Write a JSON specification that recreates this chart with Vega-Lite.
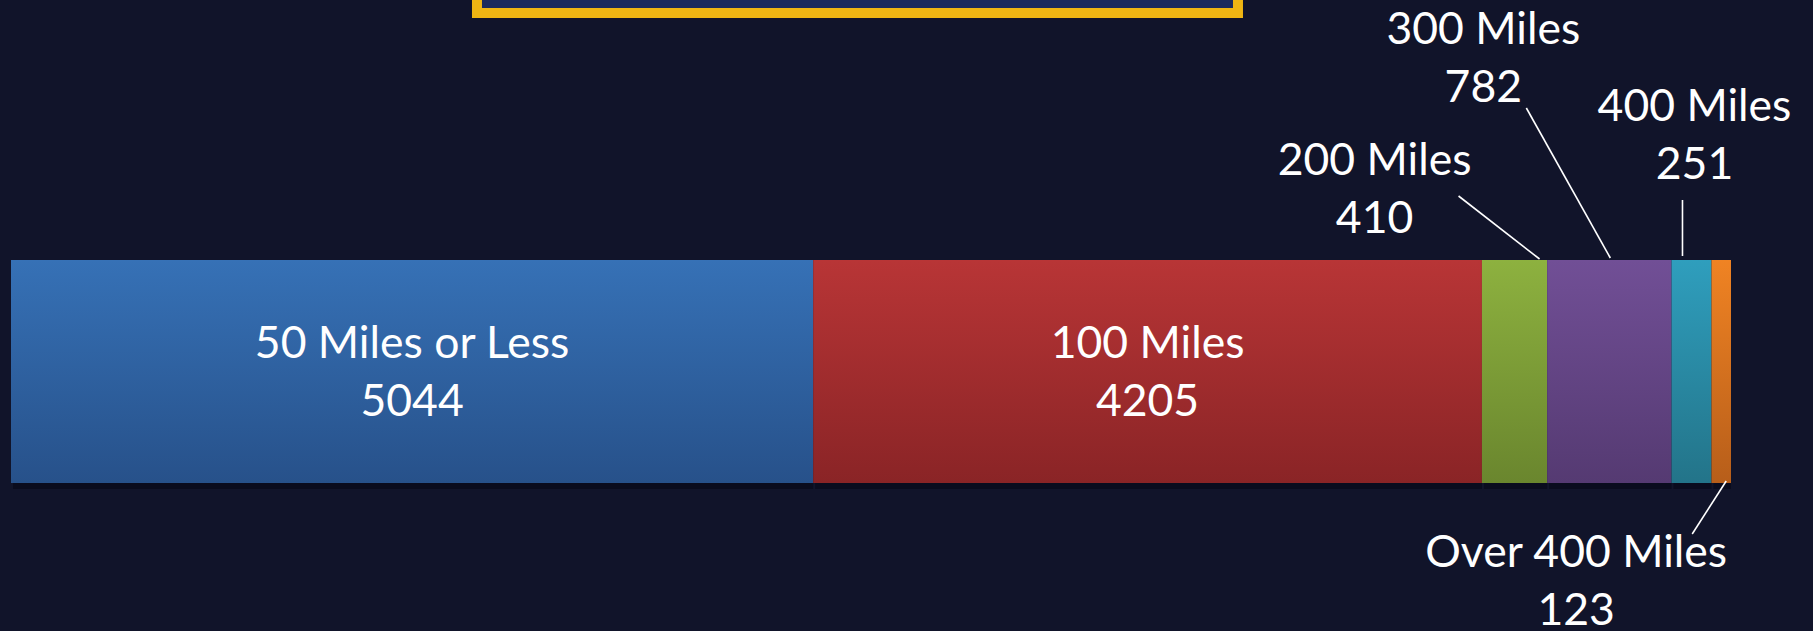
{
  "$schema": "https://vega.github.io/schema/vega-lite/v6.json",
  "width": 1813,
  "height": 631,
  "autosize": {"type": "none"},
  "padding": 0,
  "background": "#11142a",
  "config": {
    "view": {"stroke": null},
    "text": {"font": "Lato", "fontSize": 44.5, "color": "#ffffff", "lineHeight": 58, "align": "center", "baseline": "middle"}
  },
  "data": {
    "values": [
      {"cat": "50 Miles or Less", "n": 5044, "order": 1},
      {"cat": "100 Miles", "n": 4205, "order": 2},
      {"cat": "200 Miles", "n": 410, "order": 3},
      {"cat": "300 Miles", "n": 782, "order": 4},
      {"cat": "400 Miles", "n": 251, "order": 5},
      {"cat": "Over 400 Miles", "n": 123, "order": 6}
    ]
  },
  "transform": [
    {"stack": "n", "groupby": [], "sort": [{"field": "order", "order": "ascending"}], "as": ["x0", "x1"]},
    {"calculate": "(datum.x0 + datum.x1) / 2", "as": "xm"},
    {"calculate": "[datum.cat, '' + datum.n]", "as": "lbl"}
  ],
  "layer": [
    {
      "mark": {"type": "rect", "fill": "#1b2a5c", "stroke": "#efb513", "strokeWidth": 10},
      "transform": [{"filter": "datum.order === 1"}],
      "encoding": {
        "x": {"datum": 2930, "type": "quantitative", "scale": {"domain": [0, 10815], "range": [11, 1731], "nice": false, "zero": false}, "axis": null},
        "x2": {"datum": 7715},
        "y": {"datum": 2.108, "type": "quantitative", "scale": {"domain": [0, 1], "range": [483, 260], "nice": false, "zero": false}, "axis": null},
        "y2": {"datum": 2.4}
      }
    },
    {
      "mark": {"type": "rect", "fill": "#07091a", "opacity": 0.7, "yOffset": 6, "xOffset": 2},
      "encoding": {
        "x": {"field": "x0", "type": "quantitative", "scale": {"domain": [0, 10815], "range": [11, 1731], "nice": false, "zero": false}, "axis": null},
        "x2": {"field": "x1"},
        "y": {"datum": 0, "type": "quantitative", "scale": {"domain": [0, 1], "range": [483, 260], "nice": false, "zero": false}, "axis": null},
        "y2": {"datum": 1}
      }
    },
    {
      "mark": {"type": "rect"},
      "encoding": {
        "x": {"field": "x0", "type": "quantitative", "scale": {"domain": [0, 10815], "range": [11, 1731], "nice": false, "zero": false}, "axis": null},
        "x2": {"field": "x1"},
        "y": {"datum": 0, "type": "quantitative", "scale": {"domain": [0, 1], "range": [483, 260], "nice": false, "zero": false}, "axis": null},
        "y2": {"datum": 1},
        "fill": {
          "condition": [
            {"test": "datum.cat === '50 Miles or Less'", "value": {"gradient": "linear", "x1": 0, "y1": 0, "x2": 0, "y2": 1, "stops": [{"offset": 0, "color": "#3671b6"}, {"offset": 1, "color": "#27518a"}]}},
            {"test": "datum.cat === '100 Miles'", "value": {"gradient": "linear", "x1": 0, "y1": 0, "x2": 0, "y2": 1, "stops": [{"offset": 0, "color": "#b83536"}, {"offset": 1, "color": "#8a2426"}]}},
            {"test": "datum.cat === '200 Miles'", "value": {"gradient": "linear", "x1": 0, "y1": 0, "x2": 0, "y2": 1, "stops": [{"offset": 0, "color": "#8db13f"}, {"offset": 1, "color": "#6a862e"}]}},
            {"test": "datum.cat === '300 Miles'", "value": {"gradient": "linear", "x1": 0, "y1": 0, "x2": 0, "y2": 1, "stops": [{"offset": 0, "color": "#714f96"}, {"offset": 1, "color": "#553a72"}]}},
            {"test": "datum.cat === '400 Miles'", "value": {"gradient": "linear", "x1": 0, "y1": 0, "x2": 0, "y2": 1, "stops": [{"offset": 0, "color": "#2f9ebd"}, {"offset": 1, "color": "#237489"}]}}
          ],
          "value": {"gradient": "linear", "x1": 0, "y1": 0, "x2": 0, "y2": 1, "stops": [{"offset": 0, "color": "#f08323"}, {"offset": 1, "color": "#b75e1a"}]}
        }
      }
    },
    {
      "mark": {"type": "text", "dy": -27},
      "transform": [{"filter": "datum.order <= 2"}],
      "encoding": {
        "x": {"field": "xm", "type": "quantitative", "scale": {"domain": [0, 10815], "range": [11, 1731], "nice": false, "zero": false}, "axis": null},
        "y": {"datum": 0.5, "type": "quantitative", "scale": {"domain": [0, 1], "range": [483, 260], "nice": false, "zero": false}, "axis": null},
        "text": {"field": "lbl"}
      }
    },
    {
      "mark": {"type": "text", "dx": -140, "dy": -98},
      "transform": [{"filter": "datum.cat === '200 Miles'"}],
      "encoding": {
        "x": {"field": "xm", "type": "quantitative", "scale": {"domain": [0, 10815], "range": [11, 1731], "nice": false, "zero": false}, "axis": null},
        "y": {"datum": 1, "type": "quantitative", "scale": {"domain": [0, 1], "range": [483, 260], "nice": false, "zero": false}, "axis": null},
        "text": {"field": "lbl"}
      }
    },
    {
      "mark": {"type": "text", "dx": -126, "dy": -229},
      "transform": [{"filter": "datum.cat === '300 Miles'"}],
      "encoding": {
        "x": {"field": "xm", "type": "quantitative", "scale": {"domain": [0, 10815], "range": [11, 1731], "nice": false, "zero": false}, "axis": null},
        "y": {"datum": 1, "type": "quantitative", "scale": {"domain": [0, 1], "range": [483, 260], "nice": false, "zero": false}, "axis": null},
        "text": {"field": "lbl"}
      }
    },
    {
      "mark": {"type": "text", "dx": 3, "dy": -152},
      "transform": [{"filter": "datum.cat === '400 Miles'"}],
      "encoding": {
        "x": {"field": "xm", "type": "quantitative", "scale": {"domain": [0, 10815], "range": [11, 1731], "nice": false, "zero": false}, "axis": null},
        "y": {"datum": 1, "type": "quantitative", "scale": {"domain": [0, 1], "range": [483, 260], "nice": false, "zero": false}, "axis": null},
        "text": {"field": "lbl"}
      }
    },
    {
      "mark": {"type": "text", "dx": -145, "dy": 71},
      "transform": [{"filter": "datum.cat === 'Over 400 Miles'"}],
      "encoding": {
        "x": {"field": "xm", "type": "quantitative", "scale": {"domain": [0, 10815], "range": [11, 1731], "nice": false, "zero": false}, "axis": null},
        "y": {"datum": 0, "type": "quantitative", "scale": {"domain": [0, 1], "range": [483, 260], "nice": false, "zero": false}, "axis": null},
        "text": {"field": "lbl"}
      }
    },
    {
      "mark": {"type": "rule", "color": "#ffffff", "strokeWidth": 1.6, "xOffset": -56, "yOffset": -64, "x2Offset": 25, "y2Offset": -1},
      "transform": [{"filter": "datum.cat === '200 Miles'"}],
      "encoding": {
        "x": {"field": "xm", "type": "quantitative", "scale": {"domain": [0, 10815], "range": [11, 1731], "nice": false, "zero": false}, "axis": null},
        "x2": {"field": "xm"},
        "y": {"datum": 1, "type": "quantitative", "scale": {"domain": [0, 1], "range": [483, 260], "nice": false, "zero": false}, "axis": null},
        "y2": {"datum": 1}
      }
    },
    {
      "mark": {"type": "rule", "color": "#ffffff", "strokeWidth": 1.6, "xOffset": -83, "yOffset": -152, "x2Offset": 1, "y2Offset": -2},
      "transform": [{"filter": "datum.cat === '300 Miles'"}],
      "encoding": {
        "x": {"field": "xm", "type": "quantitative", "scale": {"domain": [0, 10815], "range": [11, 1731], "nice": false, "zero": false}, "axis": null},
        "x2": {"field": "xm"},
        "y": {"datum": 1, "type": "quantitative", "scale": {"domain": [0, 1], "range": [483, 260], "nice": false, "zero": false}, "axis": null},
        "y2": {"datum": 1}
      }
    },
    {
      "mark": {"type": "rule", "color": "#ffffff", "strokeWidth": 1.6, "xOffset": -9, "yOffset": -60, "x2Offset": -9, "y2Offset": -4},
      "transform": [{"filter": "datum.cat === '400 Miles'"}],
      "encoding": {
        "x": {"field": "xm", "type": "quantitative", "scale": {"domain": [0, 10815], "range": [11, 1731], "nice": false, "zero": false}, "axis": null},
        "x2": {"field": "xm"},
        "y": {"datum": 1, "type": "quantitative", "scale": {"domain": [0, 1], "range": [483, 260], "nice": false, "zero": false}, "axis": null},
        "y2": {"datum": 1}
      }
    },
    {
      "mark": {"type": "rule", "color": "#ffffff", "strokeWidth": 1.6, "xOffset": 5, "yOffset": -2, "x2Offset": -29, "y2Offset": 51},
      "transform": [{"filter": "datum.cat === 'Over 400 Miles'"}],
      "encoding": {
        "x": {"field": "xm", "type": "quantitative", "scale": {"domain": [0, 10815], "range": [11, 1731], "nice": false, "zero": false}, "axis": null},
        "x2": {"field": "xm"},
        "y": {"datum": 0, "type": "quantitative", "scale": {"domain": [0, 1], "range": [483, 260], "nice": false, "zero": false}, "axis": null},
        "y2": {"datum": 0}
      }
    }
  ]
}
